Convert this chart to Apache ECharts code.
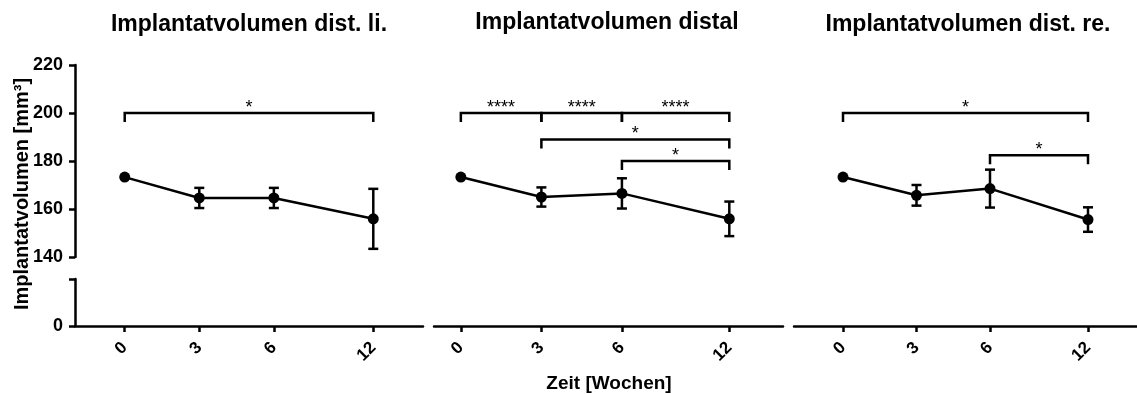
<!DOCTYPE html>
<html>
<head>
<meta charset="utf-8">
<script src="https://cdn.jsdelivr.net/npm/echarts@6/dist/echarts.min.js"></script>
<style>
html, body { margin: 0; padding: 0; background: #fff; }
#main { width: 1137px; height: 394px; }
</style>
</head>
<body>
<div id="main"></div>
<script>
// Wochen und ihre Position auf der x-Achse (12 sitzt enger, wie im Original)
var weeks = ['0', '3', '6', '12'];
var slots = [0, 3, 6, 10];

var titles = ['Implantatvolumen dist. li.', 'Implantatvolumen distal', 'Implantatvolumen dist. re.'];

// Mittelwerte und Fehler (mm³)
var meanLi = [173.3, 164.6, 164.6, 155.9];
var errLi = [0, 4.2, 4.2, 12.5];
var meanDi = [173.3, 165.0, 166.5, 155.9];
var errDi = [0, 4.0, 6.3, 7.2];
var meanRe = [173.3, 165.7, 168.5, 155.6];
var errRe = [0, 4.3, 7.9, 5.1];

// Signifikanz: [von Woche-Index, bis Woche-Index, Höhe, Sterne]
var sigLi = [[0, 3, 200, '*']];
var sigDi = [[0, 1, 200, '****'], [1, 2, 200, '****'], [2, 3, 200, '****'], [1, 3, 189, '*'], [2, 3, 180, '*']];
var sigRe = [[0, 3, 200, '*'], [2, 3, 182.4, '*']];

var FONT = 'Liberation Sans';
var myChart = echarts.init(document.getElementById('main'));

var panels = [
    { mean: meanLi, err: errLi, sig: sigLi, left: 75, width: 348, min: -2 },
    { mean: meanDi, err: errDi, sig: sigDi, left: 434, width: 349, min: -1 },
    { mean: meanRe, err: errRe, sig: sigRe, left: 794, width: 349, min: -2 }
];

function errRender(params, api) {
    var x = api.value(0), lo = api.value(1), hi = api.value(2);
    if (!(hi > lo)) return;
    var t = api.coord([x, hi]), b = api.coord([x, lo]);
    var w = 5, st = { stroke: '#000', lineWidth: 2.5 };
    return {
        type: 'group',
        children: [
            { type: 'line', shape: { x1: t[0], y1: t[1], x2: b[0], y2: b[1] }, style: st },
            { type: 'line', shape: { x1: t[0] - w, y1: t[1], x2: t[0] + w, y2: t[1] }, style: st },
            { type: 'line', shape: { x1: b[0] - w, y1: b[1], x2: b[0] + w, y2: b[1] }, style: st }
        ]
    };
}

function makeSigRender(sig) {
    return function (params, api) {
        var s = sig[params.dataIndex];
        var a = api.coord([slots[s[0]], s[2]]);
        var b = api.coord([slots[s[1]], s[2]]);
        var leg = 9;
        return {
            type: 'group',
            children: [
                {
                    type: 'polyline',
                    shape: { points: [[a[0], a[1] + leg], [a[0], a[1]], [b[0], b[1]], [b[0], b[1] + leg]] },
                    style: { stroke: '#000', lineWidth: 2.5, fill: null }
                },
                {
                    type: 'text',
                    x: (a[0] + b[0]) / 2,
                    y: a[1] + 4,
                    style: { text: s[3], fill: '#000', font: '18px "' + FONT + '"', align: 'center', verticalAlign: 'bottom' }
                }
            ]
        };
    };
}

var grid = [], xAxis = [], yAxis = [], series = [], title = [];
var titleCenters = [249, 607, 968];
var titleTops = [13, 11, 13];

panels.forEach(function (p, i) {
    // oberer Teil 140-220
    grid.push({ left: p.left, width: p.width, top: 65, height: 192 });
    // unterer Teil 0-20 mit x-Achse
    grid.push({ left: p.left, width: p.width, top: 279, height: 47 });

    xAxis.push({
        type: 'value', gridIndex: 2 * i, min: p.min, max: 12,
        show: false
    });
    xAxis.push({
        type: 'value', gridIndex: 2 * i + 1, min: p.min, max: 12,
        position: 'bottom',
        axisLine: { show: true, onZero: false, lineStyle: { color: '#000', width: 2.5 } },
        axisTick: { show: true, customValues: slots, length: 6, lineStyle: { color: '#000', width: 2.5 } },
        axisLabel: {
            customValues: slots, rotate: 45, margin: 19,
            color: '#000', fontFamily: FONT, fontWeight: 'bold', fontSize: 17,
            formatter: function (v) { return weeks[slots.indexOf(v)]; }
        },
        splitLine: { show: false }
    });

    yAxis.push({
        type: 'value', gridIndex: 2 * i, min: 140, max: 220, interval: 20,
        show: i === 0,
        axisLine: { show: true, onZero: false, lineStyle: { color: '#000', width: 2.5 } },
        axisTick: { show: true, length: 6, lineStyle: { color: '#000', width: 2.5 } },
        axisLabel: { color: '#000', fontFamily: FONT, fontWeight: 'bold', fontSize: 18, margin: 12 },
        splitLine: { show: false }
    });
    yAxis.push({
        type: 'value', gridIndex: 2 * i + 1, min: 0, max: 20, interval: 20,
        show: i === 0,
        axisLine: { show: true, onZero: false, lineStyle: { color: '#000', width: 2.5 } },
        axisTick: { show: true, length: 6, lineStyle: { color: '#000', width: 2.5 } },
        axisLabel: {
            color: '#000', fontFamily: FONT, fontWeight: 'bold', fontSize: 18, margin: 12,
            formatter: function (v) { return v === 0 ? '0' : ''; }
        },
        splitLine: { show: false }
    });

    series.push({
        type: 'custom', xAxisIndex: 2 * i, yAxisIndex: 2 * i,
        renderItem: errRender,
        data: p.mean.map(function (m, k) { return [slots[k], m - p.err[k], m + p.err[k]]; }),
        z: 3
    });
    series.push({
        type: 'line', xAxisIndex: 2 * i, yAxisIndex: 2 * i,
        data: p.mean.map(function (m, k) { return [slots[k], m]; }),
        symbol: 'circle', symbolSize: 11,
        itemStyle: { color: '#000' },
        lineStyle: { color: '#000', width: 2.5 },
        animation: false, z: 4
    });
    series.push({
        type: 'custom', xAxisIndex: 2 * i, yAxisIndex: 2 * i,
        renderItem: makeSigRender(p.sig),
        data: p.sig.map(function (s) { return [slots[s[0]], s[2]]; }),
        z: 5
    });

    title.push({
        text: titles[i], left: titleCenters[i], top: titleTops[i], textAlign: 'center', padding: 0,
        textStyle: { color: '#000', fontFamily: FONT, fontWeight: 'bold', fontSize: 23 }
    });
});

option = {
    backgroundColor: '#fff',
    animation: false,
    title: title,
    grid: grid,
    xAxis: xAxis,
    yAxis: yAxis,
    series: series,
    graphic: [{
        type: 'text', x: 22, y: 194, rotation: Math.PI / 2,
        style: {
            text: 'Implantatvolumen [mm³]', fill: '#000',
            font: 'bold 20px "' + FONT + '"', align: 'center', verticalAlign: 'middle'
        }
    }, {
        type: 'text', x: 609, y: 384,
        style: {
            text: 'Zeit [Wochen]', fill: '#000',
            font: 'bold 19px "' + FONT + '"', align: 'center', verticalAlign: 'middle'
        }
    }]
};
myChart.setOption(option);
</script>
</body>
</html>
